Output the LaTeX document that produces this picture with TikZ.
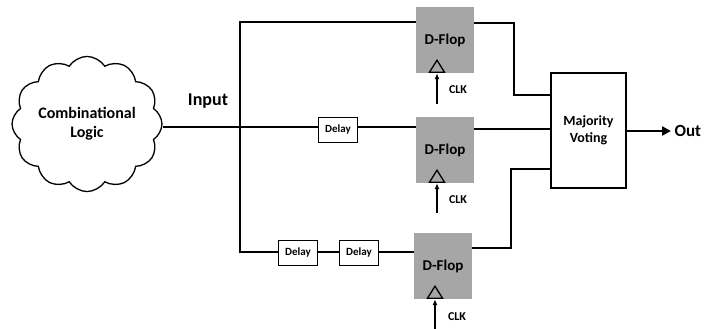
\documentclass[tikz,border=0pt]{standalone}
\usepackage{fontspec}
\setmainfont{Carlito}
\usetikzlibrary{shapes.symbols,arrows.meta}
\definecolor{ffgray}{RGB}{166,166,166}
\begin{document}
\begin{tikzpicture}[x=1pt,y=-1pt,
  wire/.style={line width=2.2pt},
  ffbox/.style={fill=ffgray, draw=none, minimum width=58pt, minimum height=66pt, inner sep=0pt, font=\bfseries\fontsize{15}{16}\selectfont},
  delaybox/.style={draw, line width=1.4pt, fill=white, minimum width=39pt, minimum height=25pt, inner sep=0pt, font=\bfseries\fontsize{11}{12}\selectfont},
  lbl/.style={font=\bfseries\fontsize{12}{13}\selectfont},
  clkarrow/.style={line width=1.5pt, -{Latex[length=6pt,width=5pt]}},
  clktri/.style={line width=1.3pt},
]
\useasboundingbox (0,0) rectangle (704,329);

% cloud
\node[cloud, cloud puffs=12, cloud puff arc=115, aspect=1.15, draw, line width=1.3pt,
      minimum width=146pt, minimum height=128pt, inner sep=0pt, align=center,
      font=\bfseries\fontsize{16}{19}\selectfont] (cl) at (87,124) {Combinational\\Logic};
\node[font=\bfseries\fontsize{18}{19}\selectfont] (inp) at (208,101) {Input};

% bus coordinates
\coordinate (bt) at (240,22);
\coordinate (bm) at (240,127);
\coordinate (bb) at (240,252);

% flip-flops
\node[ffbox] (ff1) at (445,40) {\raisebox{-3pt}{D-Flop}};
\node[ffbox] (ff2) at (445,150) {D-Flop};
\node[ffbox] (ff3) at (443,266) {D-Flop};

% delays
\node[delaybox] (d1) at (338,130) {Delay};
\node[delaybox] (d2) at (298,253) {Delay};
\node[delaybox] (d3) at (359,253) {Delay};

% voting
\node[draw, line width=1.4pt, minimum width=75pt, minimum height=115pt, inner sep=0pt, align=center,
      font=\bfseries\fontsize{14}{17}\selectfont] (vote) at (588.5,130.5) {Majority\\Voting};
\node[font=\bfseries\fontsize{17}{18}\selectfont, anchor=west] (out) at (671,131) {Out};

% wires
\draw[wire] (cl.east |- bm) -- (bm);
\draw[wire] (ff1.west |- bt) -- (bt) -- (bb) -- (d2.west |- bb);
\draw[wire] (bm) -- (d1.west |- bm);
\draw[wire] (d1.east |- bm) -- (ff2.west |- bm);
\draw[wire] (d2.east |- bb) -- (d3.west |- bb);
\draw[wire] (d3.east |- bb) -- (ff3.west |- bb);

\coordinate (o1) at (514,23);
\coordinate (o3) at (511,248);
\draw[wire] (ff1.east |- o1) -- (o1) -- (o1 |- 0,95) -- (vote.west |- 0,95);
\draw[wire] (ff2.east |- 0,129) -- (vote.west |- 0,129);
\draw[wire] (ff3.east |- o3) -- (o3) -- (o3 |- 0,169) -- (vote.west |- 0,169);
\draw[wire, -{Triangle[length=9pt,width=9pt]}] (vote.east |- out) -- (out.west);

% clocks
\foreach \f/\cx in {ff1/437, ff2/437, ff3/435} {
  \draw[clktri] (\cx-7.5,0 |- \f.south) ++(0,-1) -- ++(7.5,-12) -- ++(7.5,12) -- cycle;
}
\coordinate (c1) at (437,104);
\coordinate (c2) at (437,213);
\coordinate (c3) at (435,329);
\draw[clkarrow] (c1) -- (c1 |- ff1.south);
\draw[clkarrow] (c2) -- (c2 |- ff2.south);
\draw[clkarrow] (c3) -- (c3 |- ff3.south);
\node[lbl] (k1) at (458,90) {CLK};
\node[lbl] (k2) at (458,200) {CLK};
\node[lbl] (k3) at (457,317) {CLK};
\end{tikzpicture}
\end{document}
